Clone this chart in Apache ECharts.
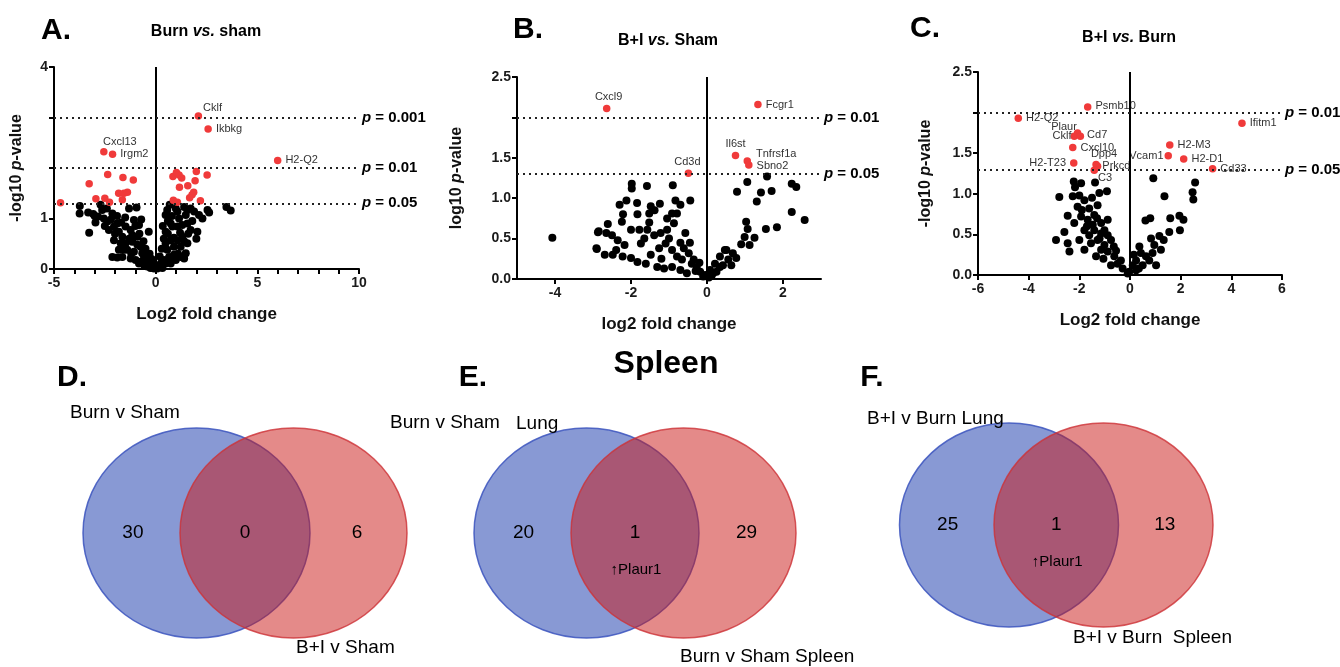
<!DOCTYPE html>
<html>
<head>
<meta charset="utf-8">
<script src="https://cdn.jsdelivr.net/npm/echarts@6/dist/echarts.min.js"></script>
<style>
  html, body { margin: 0; padding: 0; background: #fff; }
  #chart { width: 1340px; height: 667px; }
</style>
</head>
<body>
<div id="chart"></div>
<script>
// ---- panel A: Burn vs. sham ----
var aBlack = [[-3.73,1.25],[-3.74,1.10],[-3.32,1.12],[-3.07,1.09],[-3.27,0.72],[-2.96,0.92],[-2.71,1.27],[-2.63,1.17],[-2.84,1.04],[-2.55,1.00],[-2.38,0.94],[-2.13,1.10],[-2.05,0.84],[-2.30,0.77],[-1.89,0.90],[-1.81,0.74],[-1.64,0.64],[-2.05,0.57],[-1.72,0.51],[-1.48,0.84],[-1.23,0.77],[-1.31,1.20],[-0.94,1.22],[-1.07,0.97],[-0.82,0.87],[-0.71,0.98],[-0.34,0.74],[-0.90,0.64],[-1.15,0.54],[-1.40,0.38],[-1.07,0.34],[-0.74,0.44],[-0.57,0.24],[-2.13,0.24],[-1.89,0.23],[-1.64,0.24],[-1.23,0.21],[-0.99,0.18],[-0.82,0.11],[-0.57,0.08],[-0.41,0.05],[-0.25,0.02],[-0.08,0.01],[-0.16,0.11],[-0.41,0.18],[-0.66,0.31],[-0.90,0.48],[-1.15,0.67],[-1.48,0.51],[-1.56,0.38],[-1.81,0.38],[-3.0,1.05],[-2.4,1.2],[-2.2,0.98],[-1.9,1.05],[-1.7,0.92],[-1.5,1.02],[-1.0,0.85],[-0.8,0.7],[-0.6,0.55],[-0.5,0.4],[-0.3,0.3],[-0.2,0.2],[-1.3,0.6],[-2.0,0.7],[-2.5,0.85],[-1.6,0.45],[-0.4,0.12],[-0.7,0.15],[-1.2,0.3],[-0.1,0.06],
  [0.69,1.27],[0.57,1.17],[0.49,1.07],[0.99,1.20],[1.07,1.14],[1.15,1.00],[1.40,1.23],[1.56,1.17],[1.48,1.07],[1.72,1.20],[1.89,1.14],[2.13,1.07],[2.55,1.17],[2.63,1.12],[3.48,1.23],[3.69,1.16],[0.74,0.90],[0.49,0.74],[0.82,0.84],[1.07,0.84],[1.31,0.87],[1.56,0.90],[1.72,0.77],[2.05,0.74],[1.31,0.64],[1.07,0.57],[0.74,0.57],[0.49,0.51],[0.57,0.38],[0.90,0.44],[1.23,0.44],[1.56,0.51],[1.48,0.31],[1.23,0.24],[0.90,0.28],[0.66,0.24],[0.41,0.18],[0.25,0.11],[0.49,0.11],[0.74,0.11],[0.16,0.05],[0.33,0.02],[0.99,0.18],[1.40,0.21],[0.08,0.01],[0.3,0.4],[0.4,0.6],[0.6,0.95],[0.8,1.05],[1.2,0.72],[1.4,0.55],[1.8,0.95],[2.0,0.6],[1.1,0.3],[0.2,0.25],[0.6,0.7],[0.9,0.62],[1.6,0.7],[2.3,1.0],[0.35,0.85]];
var aRed = [[-4.68,1.31],[-3.27,1.69],[-2.36,1.87],[-1.61,1.81],[-1.1,1.76],[-2.94,1.39],[-2.5,1.4],[-2.27,1.32],[-1.82,1.5],[-1.56,1.5],[-1.39,1.52],[-1.64,1.37],
  [0.85,1.83],[1.02,1.91],[1.15,1.86],[1.28,1.8],[2.0,1.93],[2.53,1.86],[1.94,1.75],[1.58,1.65],[1.17,1.62],[1.87,1.52],[1.79,1.47],[1.67,1.41],[0.87,1.36],[1.07,1.32],[2.2,1.35]];
var aLabeled = [[2.1,3.03,'Cklf'],[2.58,2.77,'Ikbkg'],[6.0,2.15,'H2-Q2'],[-2.55,2.32,'Cxcl13'],[-2.12,2.27,'Irgm2']];
var aCut = [3, 2, 1.3];
var aCutText = ['0.001', '0.01', '0.05'];

// ---- panel B: B+I vs. Sham ----
var bBlack = [[-4.07,0.51],[-1.98,1.18],[-1.98,1.12],[-1.58,1.15],[-0.90,1.16],[-0.44,0.97],[-0.83,0.97],[-2.30,0.92],[-2.12,0.97],[-1.84,0.94],[-2.21,0.80],[-1.83,0.80],[-1.48,0.90],[-1.38,0.85],[-1.24,0.93],[-1.52,0.81],[-1.05,0.75],[-0.92,0.81],[-0.70,0.92],[-0.79,0.81],[-2.24,0.71],[-1.52,0.70],[-2.61,0.68],[-2.85,0.59],[-2.65,0.57],[-2.91,0.38],[-2.69,0.30],[-2.50,0.54],[-2.35,0.48],[-2.17,0.42],[-2.00,0.61],[-1.78,0.61],[-1.57,0.61],[-1.74,0.44],[-1.65,0.50],[-1.39,0.54],[-1.22,0.57],[-1.05,0.61],[-0.87,0.69],[-0.57,0.57],[-2.39,0.36],[-2.22,0.28],[-2.00,0.26],[-1.83,0.21],[-1.61,0.19],[-1.48,0.30],[-1.26,0.38],[-1.09,0.44],[-0.92,0.36],[-0.79,0.28],[-0.61,0.38],[-0.48,0.32],[-0.35,0.24],[-0.27,0.15],[-0.18,0.09],[-0.10,0.03],[-1.31,0.15],[-1.13,0.13],[-0.92,0.15],[-0.70,0.11],[-0.53,0.07],[-0.40,0.19],[-0.66,0.24],[-2.90,0.37],[-2.87,0.58],[-2.48,0.30],[-1.0,0.5],[-0.7,0.45],[-0.3,0.1],[-0.2,0.2],[-1.2,0.25],[-0.45,0.45],
  [0.16,0.07],[0.34,0.15],[0.47,0.36],[1.06,1.20],[1.58,1.27],[0.79,1.08],[1.42,1.07],[1.70,1.09],[1.31,0.96],[2.23,1.18],[2.35,1.14],[2.23,0.83],[2.57,0.73],[1.03,0.71],[1.07,0.62],[1.55,0.62],[1.84,0.64],[0.99,0.52],[1.25,0.51],[0.90,0.43],[1.12,0.42],[0.51,0.36],[0.68,0.32],[0.34,0.28],[0.56,0.24],[0.77,0.26],[0.21,0.19],[0.42,0.17],[0.08,0.11],[-0.05,0.05],[0.25,0.09],[0.64,0.17],[0.05,0.02],[0.12,0.04]];
var bLabeled = [[-2.64,2.11,'Cxcl9'],[1.34,2.16,'Fcgr1'],[0.75,1.53,'Il6st'],[1.06,1.46,'Tnfrsf1a'],[1.10,1.41,'Sbno2'],[-0.49,1.31,'Cd3d']];
var bCut = [2, 1.3];
var bCutText = ['0.01', '0.05'];

// ---- panel C: B+I vs. Burn ----
var cBlack = [[-2.22,1.15],[-1.93,1.13],[-1.38,1.14],[-2.17,1.08],[-2.79,0.96],[-2.26,0.97],[-1.80,0.92],[-1.21,1.01],[-0.91,1.03],[-2.07,0.84],[-1.61,0.82],[-1.28,0.86],[-2.46,0.73],[-1.93,0.72],[-2.20,0.64],[-1.67,0.68],[-1.41,0.74],[-1.14,0.64],[-0.88,0.68],[-2.59,0.53],[-2.92,0.43],[-2.46,0.39],[-2.00,0.43],[-2.39,0.29],[-1.80,0.55],[-1.61,0.49],[-1.41,0.55],[-1.14,0.51],[-0.88,0.49],[-1.54,0.39],[-1.28,0.43],[-1.01,0.37],[-0.75,0.43],[-1.14,0.31],[-0.88,0.29],[-0.62,0.23],[-0.49,0.14],[-0.29,0.08],[-0.09,0.02],[-0.36,0.18],[-0.75,0.12],[-1.34,0.23],[-1.80,0.31],[-0.64,0.35],[-1.47,0.62],[-1.01,0.55],[-1.9,0.8],[-1.5,0.95],[-1.7,0.6],[-1.3,0.7],[-2.0,0.98],[-1.05,0.2],[-0.55,0.3],[-1.2,0.45],
  [0.92,1.19],[2.57,1.14],[2.47,1.02],[2.50,0.93],[1.36,0.97],[0.61,0.67],[0.80,0.70],[1.59,0.70],[1.95,0.73],[2.11,0.68],[1.97,0.55],[1.55,0.53],[0.83,0.45],[1.16,0.48],[1.33,0.43],[0.96,0.37],[0.37,0.35],[0.43,0.27],[0.63,0.23],[0.89,0.27],[1.03,0.12],[0.24,0.18],[0.11,0.12],[0.50,0.12],[0.76,0.18],[-0.03,0.04],[0.24,0.06],[1.22,0.31],[0.15,0.25],[0.35,0.08]];
var cLabeled = [[-1.67,2.07,'Psmb10'],[-4.41,1.93,'H2-Q2'],[4.42,1.87,'Ifitm1'],[-2.07,1.75,'Plaur'],[-2.20,1.71,'Cklf'],[-1.96,1.71,'Cd7'],[-2.26,1.57,'Cxcl10'],[1.57,1.60,'H2-M3'],[1.51,1.47,'Vcam1'],[2.12,1.43,'H2-D1'],[3.26,1.31,'Cd33'],[-2.22,1.38,'H2-T23'],[-1.34,1.36,'Dpp4'],[-1.28,1.34,'Prkcd'],[-1.41,1.29,'C3']];
var cCut = [2, 1.3];
var cCutText = ['0.01', '0.05'];

// ---- Venn counts: [left only, shared, right only] ----
var vennD = [30, 0, 6];
var vennE = [20, 1, 29];
var vennF = [25, 1, 13];
var sharedGene = '↑Plaur1';

// label placement (style, kept apart from data)
var placeA = {Cklf:['right',[-3,-8]], Ikbkg:['right',[0,0]], 'H2-Q2':['right',[0,0]], Cxcl13:['top',[16,3]], Irgm2:['right',[0,0]]};
var placeB = {Cxcl9:['top',[2,2]], Fcgr1:['right',[0,0]], Il6st:['top',[0,2]], Tnfrsf1a:['right',[1,-7]], Sbno2:['right',[0,1]], Cd3d:['top',[-1,2]]};
var placeC = {Psmb10:['right',[0,-1]], 'H2-Q2':['right',[0,0]], Ifitm1:['right',[0,0]], Plaur:['left',[7,-6]], Cklf:['left',[5,0]], Cd7:['right',[-1,-1]], Cxcl10:['right',[0,0]], 'H2-M3':['right',[0,0]], Vcam1:['left',[3,0]], 'H2-D1':['right',[0,0]], Cd33:['right',[0,0]], 'H2-T23':['left',[0,0]], Dpp4:['top',[8,3]], Prkcd:['right',[-3,0]], C3:['right',[-4,8]]};

var FONT = '"Liberation Sans", Arial, sans-serif';
var RED = '#f03a3a';

function xAx(grid, min, max, interval, name, ticks) {
  var ax = {
    gridIndex: grid, type: 'value', min: min, max: max, interval: interval,
    name: name, nameLocation: 'middle', nameGap: 37,
    nameTextStyle: {fontFamily: FONT, fontWeight: 'bold', fontSize: 17, color: '#111'},
    axisLine: {show: true, onZero: false, lineStyle: {color: '#000', width: 2}},
    axisTick: {show: true, length: 5, lineStyle: {color: '#000', width: 2}},
    axisLabel: {fontFamily: FONT, fontWeight: 'bold', fontSize: 14, color: '#1a1a1a', margin: 7},
    splitLine: {show: false}
  };
  if (ticks) {
    ax.axisTick.customValues = ticks;
    ax.axisLabel.customValues = ticks;
  }
  return ax;
}

function yAx(grid, max, interval, name, gap, labels, ticks, fmt) {
  return {
    gridIndex: grid, type: 'value', min: 0, max: max, interval: interval,
    name: name, nameLocation: 'middle', nameGap: gap,
    nameTextStyle: {fontFamily: FONT, fontWeight: 'bold', fontSize: 16, color: '#111',
      rich: {i: {fontFamily: FONT, fontWeight: 'bold', fontStyle: 'italic', fontSize: 16, color: '#111'}}},
    axisLine: {show: true, onZero: false, lineStyle: {color: '#000', width: 2}},
    axisTick: {show: true, length: 5, customValues: ticks, lineStyle: {color: '#000', width: 2}},
    axisLabel: {fontFamily: FONT, fontWeight: 'bold', fontSize: 14, color: '#1a1a1a', margin: 6,
      customValues: labels, formatter: fmt},
    splitLine: {show: false}
  };
}

function cutLines(cuts, texts) {
  var d = [{xAxis: 0, lineStyle: {type: 'solid', width: 2, color: '#000'}, label: {show: false}}];
  cuts.forEach(function (c, i) {
    d.push({
      yAxis: c,
      lineStyle: {type: [2, 4], width: 2, color: '#222'},
      label: {show: true, position: 'end', distance: 3, formatter: '{i|p}{b| = ' + texts[i] + '}',
        rich: {
          i: {fontFamily: FONT, fontWeight: 'bold', fontStyle: 'italic', fontSize: 15, color: '#000'},
          b: {fontFamily: FONT, fontWeight: 'bold', fontSize: 15, color: '#000'}
        }}
    });
  });
  return {silent: true, symbol: 'none', animation: false, data: d};
}

function volcano(idx, black, red, labeled, place, cuts, texts) {
  var out = [{
    type: 'scatter', xAxisIndex: idx, yAxisIndex: idx, data: black, symbolSize: 8,
    itemStyle: {color: '#000', opacity: 1}, markLine: cutLines(cuts, texts), z: 2
  }];
  if (red.length) {
    out.push({type: 'scatter', xAxisIndex: idx, yAxisIndex: idx, data: red, symbolSize: 7.5,
      itemStyle: {color: RED, opacity: 1}, z: 3});
  }
  out.push({
    type: 'scatter', xAxisIndex: idx, yAxisIndex: idx, symbolSize: 7.5, z: 4,
    itemStyle: {color: RED, opacity: 1},
    label: {show: true, formatter: '{b}', fontFamily: FONT, fontSize: 11, color: '#333', distance: 4},
    data: labeled.map(function (p) {
      var pl = place[p[2]];
      return {name: p[2], value: [p[0], p[1]], label: {position: pl[0], offset: pl[1]}};
    })
  });
  return out;
}

function txt(x, y, text, font, align, rich) {
  var st = {text: text, font: font, fill: '#000', align: align || 'center', verticalAlign: 'middle'};
  if (rich) st.rich = rich;
  return {type: 'text', x: x, y: y, style: st, z: 10};
}

function titleRich(size) {
  return {
    b: {fontFamily: FONT, fontWeight: 'bold', fontSize: size, fill: '#000'},
    i: {fontFamily: FONT, fontWeight: 'bold', fontStyle: 'italic', fontSize: size, fill: '#000'}
  };
}

function venn(bx, rx0, cy, rx, ry, counts, sharedLabel) {
  var els = [
    {type: 'ellipse', shape: {cx: bx, cy: cy, rx: rx, ry: ry},
      style: {fill: 'rgba(39,70,177,0.55)', stroke: 'rgba(60,85,190,0.85)', lineWidth: 1.5}, z: 1},
    {type: 'ellipse', shape: {cx: rx0, cy: cy, rx: rx, ry: ry},
      style: {fill: 'rgba(202,21,20,0.5)', stroke: 'rgba(205,50,55,0.8)', lineWidth: 1.5}, z: 2}
  ];
  var mid = (bx + rx0) / 2;
  var f = '19px ' + FONT;
  els.push(txt(bx - rx * 0.56, cy, String(counts[0]), f));
  els.push(txt(mid, cy, String(counts[1]), f));
  els.push(txt(rx0 + rx * 0.56, cy, String(counts[2]), f));
  if (sharedLabel) els.push(txt(mid + 1, cy + 37, sharedLabel, '15px ' + FONT));
  return els;
}

var graphics = [];
// panel letters and titles
graphics.push(txt(56, 31, 'A.', 'bold 30px ' + FONT));
graphics.push(txt(528, 30, 'B.', 'bold 30px ' + FONT));
graphics.push(txt(925, 29, 'C.', 'bold 30px ' + FONT));
graphics.push(txt(206, 32, '{b|Burn }{i|vs.}{b| sham}', 'bold 16px ' + FONT, 'center', titleRich(16)));
graphics.push(txt(668, 41, '{b|B+I }{i|vs.}{b| Sham}', 'bold 16px ' + FONT, 'center', titleRich(16)));
graphics.push(txt(1129, 38, '{b|B+I }{i|vs.}{b| Burn}', 'bold 16px ' + FONT, 'center', titleRich(16)));

// Venn panels
graphics.push(txt(72, 378, 'D.', 'bold 30px ' + FONT));
graphics.push(txt(473, 378, 'E.', 'bold 30px ' + FONT));
graphics.push(txt(872, 378, 'F.', 'bold 30px ' + FONT));
graphics.push(txt(666, 364, 'Spleen', 'bold 32px ' + FONT));

graphics = graphics.concat(venn(196.5, 293.5, 533, 113.5, 105, vennD, null));
graphics = graphics.concat(venn(586.5, 683.5, 533, 112.5, 105, vennE, sharedGene));
graphics = graphics.concat(venn(1009, 1103.5, 525, 109.5, 102, vennF, sharedGene));

var lf = '19px ' + FONT;
graphics.push(txt(70, 413, 'Burn v Sham', lf, 'left'));
graphics.push(txt(296, 648, 'B+I v Sham', lf, 'left'));
graphics.push(txt(390, 423, 'Burn v Sham', lf, 'left'));
graphics.push(txt(516, 424, 'Lung', lf, 'left'));
graphics.push(txt(680, 657, 'Burn v Sham Spleen', lf, 'left'));
graphics.push(txt(867, 419, 'B+I v Burn Lung', lf, 'left'));
graphics.push(txt(1073, 638, 'B+I v Burn  Spleen', lf, 'left'));

var myChart = echarts.init(document.getElementById('chart'));
var option = {
  animation: false,
  backgroundColor: '#fff',
  grid: [
    {left: 54, top: 67, width: 305, height: 202},
    {left: 517, top: 77, width: 304, height: 202},
    {left: 978, top: 72, width: 304, height: 203}
  ],
  xAxis: [
    (function () { var a = xAx(0, -5, 10, 5, 'Log2 fold change'); a.minorTick = {show: true, splitNumber: 5, length: 5, lineStyle: {color: '#000', width: 2}}; return a; })(),
    xAx(1, -5, 3, 1, 'log2 fold change', [-4, -2, 0, 2]),
    xAx(2, -6, 6, 2, 'Log2 fold change')
  ],
  yAxis: [
    yAx(0, 4, 1, '-log10 {i|p}-value', 29, [0, 1, 4], [0, 1, 2, 3, 4], function (v) { return v; }),
    yAx(1, 2.5, 0.5, 'log10 {i|p}-value', 52, [0, 0.5, 1, 1.5, 2.5], [0, 0.5, 1, 1.5, 2, 2.5], function (v) { return v.toFixed(1); }),
    yAx(2, 2.5, 0.5, '-log10 {i|p}-value', 44, [0, 0.5, 1, 1.5, 2.5], [0, 0.5, 1, 1.5, 2, 2.5], function (v) { return v.toFixed(1); })
  ],
  series: [].concat(
    volcano(0, aBlack, aRed, aLabeled, placeA, aCut, aCutText),
    volcano(1, bBlack, [], bLabeled, placeB, bCut, bCutText),
    volcano(2, cBlack, [], cLabeled, placeC, cCut, cCutText)
  ),
  graphic: graphics
};
myChart.setOption(option);
</script>
</body>
</html>
